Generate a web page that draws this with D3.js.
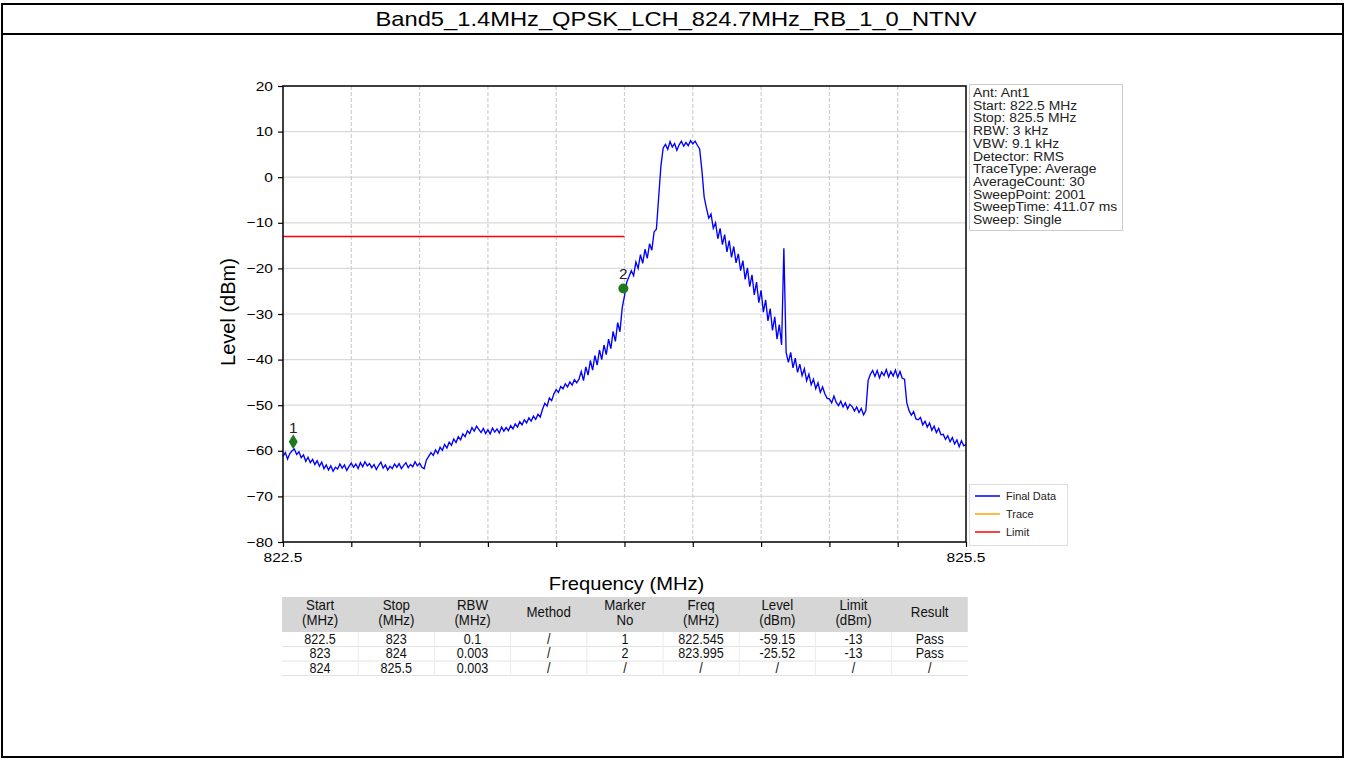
<!DOCTYPE html>
<html><head><meta charset="utf-8">
<script src="https://cdn.jsdelivr.net/npm/d3@7"></script>
<style>body{margin:0;background:#fff}svg{display:block;font-family:"Liberation Sans",Arial,sans-serif}</style>
</head><body><svg id="c" width="1346" height="760"></svg>
<script>
const chartTitle = "Band5_1.4MHz_QPSK_LCH_824.7MHz_RB_1_0_NTNV";
const freqStart = 822.5, freqStop = 825.5, freqStep = 0.01;
const levels = [
-61.2,-60.4,-61.8,-60.6,-60.0,-59.6,-60.8,-60.2,-61.5,-60.9,
-62.3,-61.4,-62.6,-61.9,-63.0,-62.2,-63.4,-62.5,-63.9,-63.1,
-64.2,-63.3,-64.5,-63.6,-64.0,-62.9,-63.8,-63.1,-64.3,-63.4,
-62.7,-63.6,-62.9,-63.9,-62.6,-63.5,-62.4,-63.3,-62.8,-63.7,
-63.0,-64.1,-63.2,-62.5,-63.8,-63.1,-64.2,-63.4,-63.9,-62.9,
-63.6,-62.8,-63.9,-63.2,-62.6,-63.7,-63.0,-63.5,-62.4,-63.3,
-62.7,-63.6,-63.9,-62.0,-61.2,-60.4,-61.0,-59.8,-60.6,-59.2,
-59.9,-58.6,-59.4,-58.1,-58.8,-57.4,-58.2,-56.9,-57.6,-56.3,
-56.9,-55.6,-56.2,-54.9,-55.7,-54.6,-55.3,-56.0,-55.1,-56.2,
-55.4,-56.3,-55.0,-55.9,-55.2,-56.1,-54.8,-55.7,-54.9,-55.6,
-54.5,-55.2,-54.1,-54.8,-53.6,-54.3,-53.2,-53.9,-52.8,-53.5,
-52.4,-53.1,-52.0,-52.6,-50.9,-49.6,-50.2,-48.4,-49.0,-47.5,
-46.6,-47.2,-45.9,-46.4,-45.3,-46.0,-44.9,-45.6,-44.4,-45.1,
-44.3,-42.6,-44.6,-41.6,-43.4,-40.2,-42.3,-39.1,-41.2,-37.9,
-40.0,-36.8,-38.9,-35.5,-37.6,-33.8,-36.0,-31.9,-33.9,-28.6,
-26.0,-23.0,-21.8,-20.5,-21.6,-18.6,-20.0,-17.0,-18.9,-15.8,
-17.8,-14.6,-16.0,-12.0,-11.4,-4.5,2.5,6.4,7.2,6.1,
7.8,6.6,7.4,5.9,7.1,7.9,6.8,7.6,6.9,8.0,
7.3,7.9,7.0,6.2,1.5,-4.4,-6.8,-9.0,-8.1,-11.2,
-10.0,-13.5,-11.2,-14.8,-12.6,-16.4,-13.9,-17.6,-15.2,-18.8,
-16.8,-20.5,-18.3,-22.4,-19.9,-24.0,-21.4,-25.8,-23.0,-27.5,
-24.8,-29.6,-26.9,-31.5,-28.8,-33.6,-30.6,-35.5,-32.3,-36.8,
-15.6,-38.5,-40.6,-38.4,-41.8,-39.7,-42.8,-41.0,-43.5,-42.0,
-44.6,-43.2,-45.5,-44.3,-46.4,-45.1,-47.2,-46.0,-47.5,-48.5,
-48.6,-49.5,-48.0,-49.4,-50.1,-49.1,-50.4,-49.5,-50.8,-49.8,
-50.3,-51.3,-50.4,-51.6,-50.7,-52.1,-51.2,-44.6,-43.2,-42.4,
-43.7,-42.4,-44.0,-42.7,-43.5,-42.2,-43.8,-42.6,-43.6,-42.3,
-43.9,-42.6,-44.1,-44.3,-49.5,-51.2,-52.2,-51.4,-53.0,-53.2,
-52.7,-54.3,-53.5,-54.8,-53.9,-55.5,-54.6,-56.0,-55.1,-56.5,
-56.4,-57.5,-56.7,-58.0,-57.1,-58.5,-57.6,-59.1,-57.8,-58.9,
-58.6
];
const limitFreq = [822.5, 824.0];
const limitLevel = [-13, -13];
const markerNo = ["1", "2"];
const markerFreq = [822.545, 823.995];
const markerLevel = [-58.0, -24.4];
const yTicks = [20, 10, 0, -10, -20, -30, -40, -50, -60, -70, -80];
const xTicks = [822.5, 822.8, 823.1, 823.4, 823.7, 824.0, 824.3, 824.6, 824.9, 825.2, 825.5];
const xTickLabels = ["822.5", "", "", "", "", "", "", "", "", "", "825.5"];
const xLabel = "Frequency (MHz)";
const yLabel = "Level (dBm)";
const infoLines = ["Ant: Ant1", "Start: 822.5 MHz", "Stop: 825.5 MHz", "RBW: 3 kHz", "VBW: 9.1 kHz",
  "Detector: RMS", "TraceType: Average", "AverageCount: 30", "SweepPoint: 2001", "SweepTime: 411.07 ms", "Sweep: Single"];
const legendLabels = ["Final Data", "Trace", "Limit"];
const tableHeader = [["Start", "(MHz)"], ["Stop", "(MHz)"], ["RBW", "(MHz)"], ["Method"], ["Marker", "No"],
  ["Freq", "(MHz)"], ["Level", "(dBm)"], ["Limit", "(dBm)"], ["Result"]];
const tableRows = [
  ["822.5", "823", "0.1", "/", "1", "822.545", "-59.15", "-13", "Pass"],
  ["823", "824", "0.003", "/", "2", "823.995", "-25.52", "-13", "Pass"],
  ["824", "825.5", "0.003", "/", "/", "/", "/", "/", "/"]
];

// styles
const traceColor = "#0000ff", traceColor2 = "#ffa500", limitColor = "#ff0000", markerColor = "#1f7a1f";
const legendColors = [traceColor, traceColor2, limitColor];
const SX = 1.15;

const svg = d3.select("#c");
function txt(g, x, y, s, size, anchor, sx, fill) {
  return g.append("text").attr("transform", `translate(${x},${y}) scale(${sx || SX},1)`)
    .attr("font-size", size).attr("text-anchor", anchor || "start").attr("fill", fill || "#000").text(s);
}

// outer frame and title
svg.append("rect").attr("x", 2).attr("y", 4).attr("width", 1341).attr("height", 753)
  .attr("fill", "#fff").attr("stroke", "#000").attr("stroke-width", 2);
svg.append("line").attr("x1", 2).attr("x2", 1343).attr("y1", 34).attr("y2", 34).attr("stroke", "#000").attr("stroke-width", 2);
txt(svg, 676, 26, chartTitle, 21, "middle", 1.13);

const L = 283, R = 966, T = 86, B = 542;
const x = d3.scaleLinear().domain([freqStart, freqStop]).range([L, R]);
const y = d3.scaleLinear().domain([-80, 20]).range([B, T]);

// grid
const grid = svg.append("g");
grid.selectAll(".hg").data(yTicks.slice(1, -1)).enter().append("line")
  .attr("x1", L).attr("x2", R).attr("y1", d => y(d)).attr("y2", d => y(d))
  .attr("stroke", "#d9d9d9").attr("stroke-width", 1.2);
grid.selectAll(".vg").data(xTicks.slice(1, -1)).enter().append("line")
  .attr("x1", d => x(d)).attr("x2", d => x(d)).attr("y1", T).attr("y2", B)
  .attr("stroke", "#cfcfcf").attr("stroke-width", 1.2).attr("stroke-dasharray", "4,2");

// axes
const yAxis = d3.axisLeft(y).tickValues(yTicks).tickSize(5).tickPadding(4);
const gy = svg.append("g").attr("transform", `translate(${L},0)`).call(yAxis);
gy.select(".domain").remove();
gy.selectAll("text").remove();
yTicks.forEach(v => txt(gy, -10, y(v) + 4.5, d3.format("")(v), 13.5, "end"));
const xAxis = d3.axisBottom(x).tickValues(xTicks).tickSize(5).tickFormat((d, i) => xTickLabels[i]);
const gx = svg.append("g").attr("transform", `translate(0,${B})`).call(xAxis);
gx.select(".domain").remove();
gx.selectAll("text").remove();
xTicks.forEach((v, i) => { if (xTickLabels[i]) txt(gx, x(v), 20, xTickLabels[i], 13.5, "middle"); });
svg.selectAll(".tick line").attr("stroke", "#000").attr("stroke-width", 1.2);

// trace
const pts = levels.map((v, i) => [freqStart + i * freqStep, v]);
svg.append("path").datum(pts).attr("fill", "none").attr("stroke", traceColor).attr("stroke-width", 1.35)
  .attr("stroke-linejoin", "miter").attr("d", d3.line().x(d => x(d[0])).y(d => y(d[1])));
// limit
svg.append("path").datum(limitFreq.map((f, i) => [f, limitLevel[i]])).attr("fill", "none")
  .attr("stroke", limitColor).attr("stroke-width", 1.6)
  .attr("d", d3.line().x(d => x(d[0])).y(d => y(d[1])));
// markers
markerFreq.forEach((f, i) => {
  const cx = x(f), cy = y(markerLevel[i]);
  if (i === 0) {
    svg.append("path").attr("d", `M${cx},${cy - 7.5}L${cx + 4.5},${cy}L${cx},${cy + 7.5}L${cx - 4.5},${cy}Z`).attr("fill", markerColor);
  } else {
    svg.append("circle").attr("cx", cx).attr("cy", cy).attr("r", 5).attr("fill", markerColor);
  }
  txt(svg, cx, cy - 9, markerNo[i], 14, "middle", 1.1, "#222");
});

// frame
svg.append("rect").attr("x", L).attr("y", T).attr("width", R - L).attr("height", B - T)
  .attr("fill", "none").attr("stroke", "#000").attr("stroke-width", 1.5);

// axis titles
txt(svg, (L + R) / 2 + 2, 590, xLabel, 17.5, "middle");
svg.append("text").attr("transform", `translate(235,312) rotate(-90)`).attr("font-size", 20)
  .attr("text-anchor", "middle").text(yLabel);

// info box
svg.append("rect").attr("x", 969.5).attr("y", 84.5).attr("width", 153).attr("height", 146)
  .attr("fill", "#fff").attr("stroke", "#cccccc");
infoLines.forEach((s, i) => txt(svg, 973, 97 + i * 12.7, s, 12.3, "start", 1.13, "#222"));

// legend
svg.append("rect").attr("x", 969.5).attr("y", 484.5).attr("width", 98).attr("height", 61)
  .attr("fill", "#fff").attr("stroke", "#dddddd");
legendLabels.forEach((s, i) => {
  const ly = 496 + i * 18;
  svg.append("line").attr("x1", 975).attr("x2", 1000).attr("y1", ly).attr("y2", ly)
    .attr("stroke", legendColors[i]).attr("stroke-width", 1.5);
  txt(svg, 1006, ly + 3.5, s, 10, "start", 1.1, "#222");
});

// table
const tx0 = 282, colW = 76.2, hy0 = 597, hy1 = 632, rowH = 14.5;
svg.append("rect").attr("x", tx0).attr("y", hy0).attr("width", colW * 9).attr("height", hy1 - hy0).attr("fill", "#d6d6d6");
tableHeader.forEach((h, c) => {
  const cx = tx0 + colW * (c + 0.5);
  if (h.length === 1) txt(svg, cx, 617, h[0], 14, "middle", 0.95, "#111");
  else { txt(svg, cx, 610, h[0], 14, "middle", 0.95, "#111"); txt(svg, cx, 625, h[1], 14, "middle", 0.95, "#111"); }
});
tableRows.forEach((r, ri) => {
  const ry = hy1 + ri * rowH;
  svg.append("line").attr("x1", tx0).attr("x2", tx0 + colW * 9).attr("y1", ry + rowH).attr("y2", ry + rowH)
    .attr("stroke", "#e2e2e2").attr("stroke-width", 1);
  r.forEach((s, c) => txt(svg, tx0 + colW * (c + 0.5), ry + 11.5, s, 14, "middle", 0.9, "#111"));
});
for (let c = 1; c < 9; c++) {
  svg.append("line").attr("x1", tx0 + colW * c).attr("x2", tx0 + colW * c).attr("y1", hy1).attr("y2", hy1 + rowH * 3)
    .attr("stroke", "#ececec").attr("stroke-width", 1);
}
</script></body></html>
